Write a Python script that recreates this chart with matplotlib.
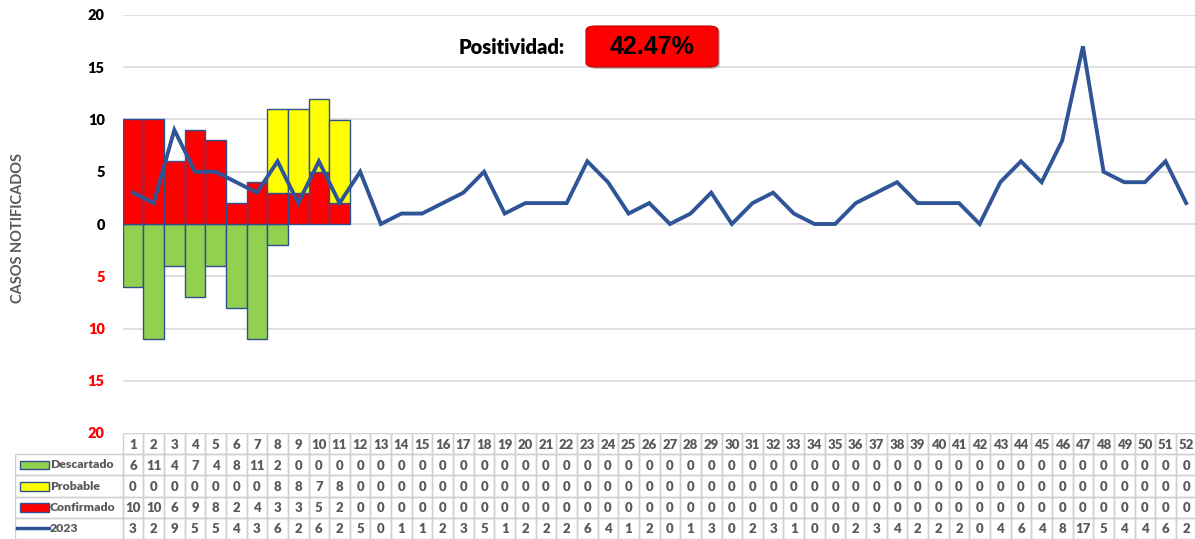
import numpy as np
import matplotlib
matplotlib.use("Agg")
import matplotlib.pyplot as plt
from matplotlib.patches import Rectangle, FancyBboxPatch
from matplotlib.lines import Line2D

plt.rcParams['font.family'] = ['Lato', 'DejaVu Sans']

### data
weeks = list(range(1, 53))
descartado = [6, 11, 4, 7, 4, 8, 11, 2] + [0] * 44
probable = [0, 0, 0, 0, 0, 0, 0, 8, 8, 7, 8] + [0] * 41
confirmado = [10, 10, 6, 9, 8, 2, 4, 3, 3, 5, 2] + [0] * 41
casos_2023 = [3, 2, 9, 5, 5, 4, 3, 6, 2, 6, 2, 5, 0, 1, 1, 2, 3, 5, 1, 2,
              2, 2, 6, 4, 1, 2, 0, 1, 3, 0, 2, 3, 1, 0, 0, 2, 3, 4, 2, 2,
              2, 0, 4, 6, 4, 8, 17, 5, 4, 4, 6, 2]
positividad = "42.47%"

row_names = ['Descartado', 'Probable', 'Confirmado', '2023']
row_values = [descartado, probable, confirmado, casos_2023]

GREEN = '#92D050'
YELLOW = '#FFFF00'
RED = '#FF0000'
EDGE = '#2F528F'
LINE = '#2F5597'
GREY = '#595959'

W, H = 1195, 539
fig = plt.figure(figsize=(W / 100, H / 100), dpi=100)

### main chart
col_w = 20.65
x_left = 122.7
ax = fig.add_axes([x_left / W, 1 - 433 / H, 52 * col_w / W, 418 / H])
ax.set_xlim(0.5, 52.5)
ax.set_ylim(-20, 20)

neg = -np.array(descartado)
conf = np.array(confirmado)
prob = np.array(probable)
ax.bar(weeks, neg, width=1, color=GREEN, edgecolor=EDGE, linewidth=1, zorder=2)
ax.bar(weeks, conf, width=1, color=RED, edgecolor=EDGE, linewidth=1, zorder=2)
ax.bar(weeks, prob, width=1, bottom=conf, color=YELLOW, edgecolor=EDGE,
       linewidth=1, zorder=2)
# hide edges of empty bars
for c in ax.patches:
    if c.get_height() == 0:
        c.set_visible(False)
ax.plot(weeks, casos_2023, color=LINE, linewidth=2.8, zorder=3,
        solid_joinstyle='miter')

yt = np.arange(-20, 21, 5)
ax.set_yticks(yt)
ax.set_yticklabels([str(abs(v)) for v in yt], fontsize=10.5, fontweight='heavy')
for lab, v in zip(ax.get_yticklabels(), yt):
    lab.set_color(RED if v < 0 else 'black')
ax.tick_params(axis='y', length=0, pad=13)
ax.set_xticks([])
for s in ax.spines.values():
    s.set_visible(False)
for v in yt[1:]:
    ax.axhline(v, color='#D9D9D9', linewidth=1.2, zorder=0)

fig.text(18 / W, 1 - 228 / H, 'CASOS NOTIFICADOS', rotation=90, ha='center',
         va='center', fontsize=10.5, fontweight='bold', color=GREY)

### positividad box
fig.text(565 / W, 1 - 48 / H, 'Positividad:', ha='right', va='center',
         fontsize=14.5, fontweight='heavy', color='black')
box = FancyBboxPatch((586 / W, 1 - 67 / H), 132 / W, 41 / H,
                     boxstyle='round,pad=0,rounding_size=0.008',
                     transform=fig.transFigure, facecolor=RED,
                     edgecolor='#C00000', linewidth=0.8, zorder=5)
shadow = FancyBboxPatch((588 / W, 1 - 69 / H), 132 / W, 41 / H,
                        boxstyle='round,pad=0,rounding_size=0.008',
                        transform=fig.transFigure, facecolor='#9A9A9A',
                        edgecolor='none', alpha=0.6, zorder=4)
fig.patches.extend([shadow, box])
fig.text(652 / W, 1 - 47 / H, positividad, ha='center', va='center',
         fontsize=18, fontweight='bold', color='black', zorder=6,
         family=['Liberation Sans', 'DejaVu Sans'])

### data table under the chart
t_left = 15
lead = (x_left - t_left) / col_w
tax = fig.add_axes([t_left / W, 0, (W + 2 - t_left) / W, 106 / H])
tax.set_xlim(0.5 - lead, 0.5 + (W + 2 - t_left) / col_w - lead)
tax.set_ylim(5, 0)
tax.axis('off')
bc = '#D0D0D0'
tfs = 9.5
for i, wk in enumerate(weeks):
    tax.add_patch(Rectangle((wk - 0.5, 0), 1, 1, fill=False, edgecolor=bc,
                            linewidth=1))
    tax.text(wk, 0.55, str(wk), ha='center', va='center', fontsize=tfs,
             fontweight='heavy', color=GREY)
    for r, vals in enumerate(row_values):
        tax.add_patch(Rectangle((wk - 0.5, r + 1), 1, 1, fill=False,
                                edgecolor=bc, linewidth=1))
        tax.text(wk, r + 1.55, str(vals[i]), ha='center', va='center',
                 fontsize=tfs, fontweight='heavy', color=GREY)

x0 = 0.5 - lead
swatch = [GREEN, YELLOW, RED, None]
for r, name in enumerate(row_names):
    tax.add_patch(Rectangle((x0, r + 1), lead, 1, fill=False, edgecolor=bc,
                            linewidth=1))
    if swatch[r] is not None:
        tax.add_patch(Rectangle((x0 + 0.22, r + 1.3), 1.42, 0.42,
                                facecolor=swatch[r], edgecolor=EDGE,
                                linewidth=1))
    else:
        tax.add_line(Line2D([x0 + 0.12, x0 + 1.64], [r + 1.5, r + 1.5],
                            color=LINE, linewidth=2.5))
    tax.text(x0 + 1.69, r + 1.5, name, ha='left', va='center', fontsize=8.8,
             fontweight='heavy', color=GREY)

fig.savefig('out.png', dpi=100)
